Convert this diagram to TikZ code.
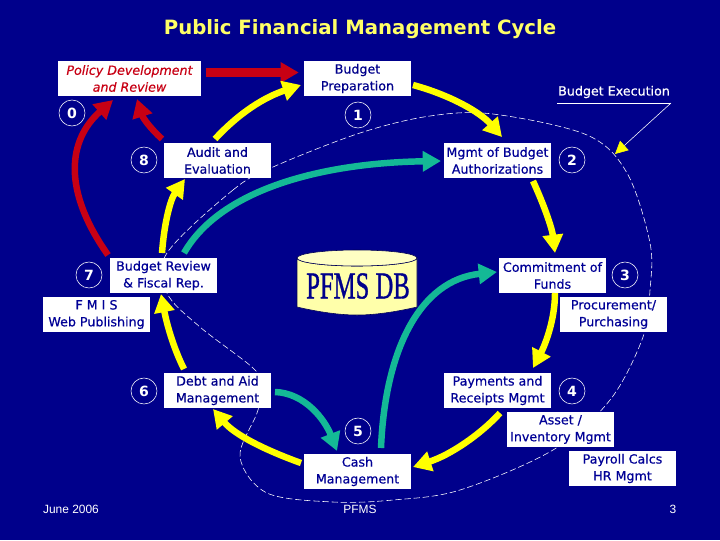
\documentclass[tikz,border=0pt]{standalone}
\usepackage{fontspec}
\setmainfont{DejaVu Sans}
\newfontfamily\boxfont{DejaVu Sans}[RawFeature={embolden=0.5}]
\newfontfamily\footfont{Liberation Sans}
\newfontfamily\dbfont{Liberation Serif}[RawFeature={embolden=1.2}]
\usetikzlibrary{arrows.meta}
\definecolor{slidebg}{RGB}{0,0,139}
\definecolor{flowred}{RGB}{200,0,20}
\definecolor{flowyellow}{RGB}{255,255,0}
\definecolor{flowteal}{RGB}{20,185,150}
\definecolor{titleyellow}{RGB}{255,255,102}
\definecolor{textblue}{RGB}{0,0,150}
\definecolor{dbfill}{RGB}{255,255,170}

\begin{document}
\begin{tikzpicture}[
  x=0.025cm, y=-0.025cm,
  box/.style={rectangle, fill=white, minimum width=107*0.025cm, minimum height=35*0.025cm,
              inner sep=0pt, align=center, text=textblue, font=\boxfont\fontsize{9}{12}\selectfont},
  stepno/.style={circle, draw=white, thin, minimum size=26*0.025cm, inner sep=0pt,
                 text=white, font=\fontsize{10}{11}\selectfont\bfseries},
  flow/.style={-{Triangle[length=13pt,width=14pt]}, line width=4.6pt},
  redflow/.style={flow, draw=flowred},
  yellowflow/.style={flow, draw=flowyellow},
  tealflow/.style={flow, draw=flowteal},
  foot/.style={text=white, font=\footfont\fontsize{8.5}{10}\selectfont, inner sep=0pt}
]
  \useasboundingbox (0,0) rectangle (720,540);
  \fill[slidebg] (0,0) rectangle (720,540);

  % Title
  \node[text=titleyellow, font=\fontsize{14}{18}\selectfont\bfseries] (title) at (360,29)
    {Public Financial Management Cycle};

  % Execution boundary
  \draw[white, thin, dash pattern=on 4.5pt off 2pt]
    plot[smooth cycle, tension=0.55] coordinates {
      (167,253) (233,190) (273,167) (360,133) (430,116) (493,114) (587,135) (627,173)
      (650,243) (650,290) (643,337) (610,400) (553,450) (460,490) (393,500) (333,502)
      (267,493) (240,457) (257,413) (263,387) (253,368) (200,327) (167,293)};

  % Boxes
  \node[box, minimum width=143*0.025cm, text=flowred, font=\boxfont\fontsize{9}{12}\selectfont\itshape] (policy) at (129.5,78.5)
    {Policy Development\\and Review};
  \node[box, text=slidebg] (prep)    at (357.5,78.5)  {Budget\\Preparation};
  \node[box, text=slidebg] (audit)   at (217.5,160.5) {Audit and\\Evaluation};
  \node[box] (auth)    at (497.5,160.5) {Mgmt of Budget\\Authorizations};
  \node[box] (review)  at (163.5,275.5) {Budget Review\\\& Fiscal Rep.};
  \node[box] (commit)  at (552.5,275.5) {Commitment of\\Funds};
  \node[box] (fmis)    at (96.5,314.5)  {F M I S\\Web Publishing};
  \node[box] (proc)    at (613.5,314.5) {Procurement/\\Purchasing};
  \node[box, text=slidebg] (debt) at (217.5,390.5) {Debt and Aid\\Management};
  \node[box] (pay)     at (497.5,390.5) {Payments and\\Receipts Mgmt};
  \node[box] (asset)   at (560.5,429.5) {Asset /\\Inventory Mgmt};
  \node[box] (payroll) at (622.5,468.5) {Payroll Calcs\\HR Mgmt};
  \node[box] (cash)    at (357.5,471.5) {Cash\\Management};

  % Step numbers
  \node[stepno] (n0) at (72,113)  {0};
  \node[stepno] (n1) at (358,115) {1};
  \node[stepno] (n2) at (572,160) {2};
  \node[stepno] (n3) at (625,275) {3};
  \node[stepno] (n4) at (572,391) {4};
  \node[stepno] (n5) at (358,431) {5};
  \node[stepno] (n6) at (144,391) {6};
  \node[stepno] (n7) at (89,275)  {7};
  \node[stepno] (n8) at (144,160) {8};

  % Database
  \draw[fill=dbfill, draw=slidebg!60!black, thin]
    (297,258) arc[start angle=180, end angle=360, x radius=60, y radius=-8]
    -- (417,307) .. controls (395,312) and (375,315) .. (357,315)
    .. controls (339,315) and (319,312) .. (297,307) -- cycle;
  \draw[fill=dbfill!70!white, draw=slidebg!60!black, thin] (357,258) ellipse[x radius=60, y radius=8];
  \node[text=slidebg, inner sep=0pt, font=\dbfont\fontsize{27}{28}\selectfont] (db) at (358,286)
    {\scalebox{0.65}[1]{PFMS DB}};

  % Budget Execution label
  \node[text=white, font=\boxfont\fontsize{9}{12}\selectfont, inner sep=0pt] (exec) at (614,92) {Budget Execution};
  \coordinate (execl) at (557,103);
  \coordinate (execr) at (671,103);
  \coordinate (exect) at (615,154);
  \draw[white, thin] (execl) -- (execr);
  \draw[white, thin, -{Triangle[length=9pt,width=9pt,color=flowyellow]}] (execr) -- (exect);

  % Arrows
  \draw[redflow, line width=5.8pt, shorten >=3.5pt, shorten <=3pt] (policy.east |- 0,72.5) -- (prep.west |- 0,72.5);
  \draw[redflow] (108,255) .. controls (62,190) and (68,140) .. (113,100);
  \draw[redflow] (162,139) .. controls (150,128) and (143,118) .. (137,99);
  \draw[yellowflow] (215,139) .. controls (240,112) and (265,97) .. (301,85);
  \draw[yellowflow] (162,253) .. controls (164,225) and (170,200) .. (185,179);
  \draw[tealflow] (184,253) .. controls (220,190) and (320,163) .. (441,161);
  \draw[yellowflow] (413,85) .. controls (450,95) and (480,112) .. (502,137);
  \draw[yellowflow] (533,181) .. controls (544,205) and (552,228) .. (555,253);
  \draw[yellowflow] (555,293) .. controls (555,320) and (545,345) .. (533,368);
  \draw[yellowflow] (500,413) .. controls (480,435) and (450,455) .. (413,467);
  \draw[tealflow] (381,448) .. controls (385,350) and (420,280) .. (497,272);
  \draw[yellowflow] (301,463) .. controls (265,450) and (235,435) .. (213,409);
  \draw[tealflow] (275,392) .. controls (305,393) and (325,420) .. (337,451);
  \draw[yellowflow] (184,369) .. controls (172,345) and (166,320) .. (161,294);

  % Footer
  \node[foot] (date) at (71,509)  {June 2006};
  \node[foot] (pfms) at (360,509) {PFMS};
  \node[foot] (page) at (673,509) {3};
\end{tikzpicture}
\end{document}
